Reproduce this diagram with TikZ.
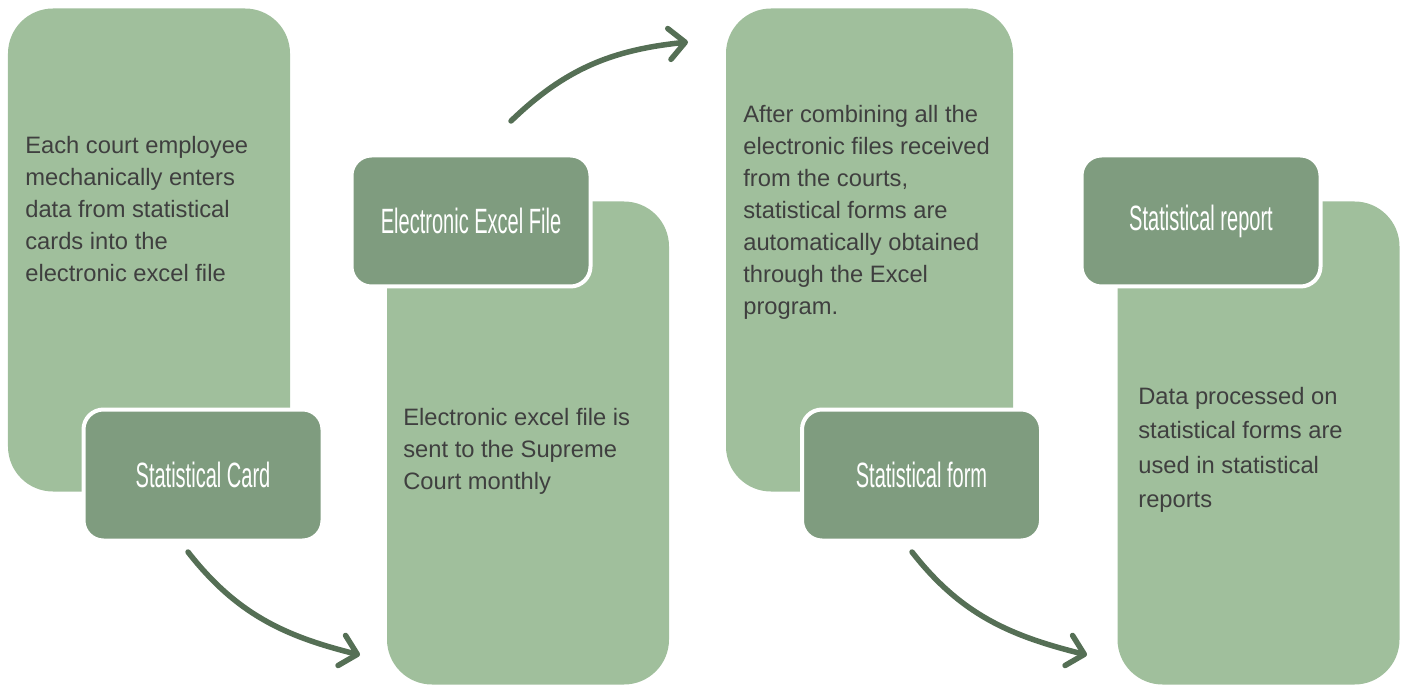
\documentclass[tikz,border=0pt]{standalone}
\usepackage{fontspec}
\setmainfont{Liberation Sans}
\newfontfamily\tagfont[FakeStretch=0.57]{Liberation Sans}
\usepackage{tikz}
\usepackage{xcolor}
\definecolor{sage}{HTML}{A0BF9C}
\definecolor{moss}{HTML}{7F9C7F}
\definecolor{fern}{HTML}{556F55}
\definecolor{ink}{HTML}{3F3F3F}
\usetikzlibrary{positioning,arrows.meta,shapes.misc}

\begin{document}
\begin{tikzpicture}[
	panel/.style={fill=sage,rounded corners=0.9cm,minimum width=5.64cm,minimum height=9.66cm,inner sep=0pt},
	tag/.style={fill=moss,draw=white,line width=0.08cm,rounded corners=0.4cm,minimum width=4.78cm,minimum height=2.62cm,text=white,font=\tagfont\fontsize{20}{22}\selectfont},
	body/.style={anchor=north west,inner sep=0pt,align=left,text=ink,font=\fontsize{13.5}{18.2}\selectfont},
	flow/.style={draw=fern,line width=0.11cm,line cap=round,-{Straight Barb[length=0.32cm,width=0.62cm,round]}}
	]
				\useasboundingbox (0,0) rectangle (28.18,-13.72);
				% Panels
				\node[panel] (cardpanel) at (2.98,-5.0) {};
				\node[panel] (filepanel) at (10.56,-8.86) {};
				\node[panel,minimum width=5.74cm] (formpanel) at (17.39,-5.0) {};
				\node[panel] (reportpanel) at (25.17,-8.86) {};
				% Tags
				\node[tag] (card) at (4.06,-9.5) {Statistical Card};
				\node[tag] (file) at (9.42,-4.42) {Electronic Excel File};
				\node[tag] (form) at (18.43,-9.5) {Statistical form};
				\node[tag] (report) at (24.02,-4.42) {Statistical report};
				% Texts
				\node[body] (cardtext) at (0.5,-2.72) {Each court employee\\mechanically enters\\data from statistical\\cards into the\\electronic excel file};
				\node[body] (filetext) at (8.06,-8.16) {Electronic excel file is\\sent to the Supreme\\Court monthly};
				\node[body] (formtext) at (14.86,-2.1) {After combining all the\\electronic files received\\from the courts,\\statistical forms are\\automatically obtained\\through the Excel\\program.};
				\node[body,font=\fontsize{13.5}{19.6}\selectfont] (reporttext) at (22.76,-7.74) {Data processed on\\statistical forms are\\used in statistical\\reports};
				% Arrows
				\coordinate []  (cardout) at (3.76,-11.04) ;
				\coordinate []  (filein) at (7.2,-13.1) ;
				\coordinate []  (fileout) at (10.22,-2.42) ;
				\coordinate []  (formin) at (13.76,-0.84) ;
				\coordinate []  (formout) at (18.24,-11.04) ;
				\coordinate []  (reportin) at (21.74,-13.1) ;
				\draw[flow] (cardout) to[out=-52,in=166] (filein);
				\draw[flow] (fileout) to[out=44,in=186] (formin);
				\draw[flow] (formout) to[out=-52,in=166] (reportin);
			\end{tikzpicture}
\end{document}
